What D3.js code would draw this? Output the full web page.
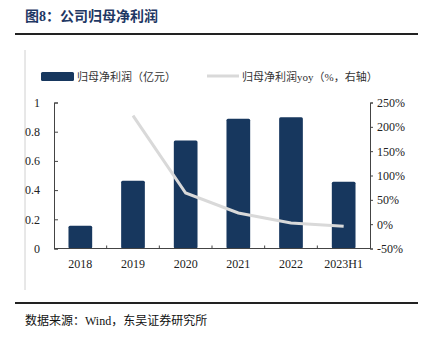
<!DOCTYPE html>
<html>
<head>
<meta charset="utf-8">
<script src="https://cdn.jsdelivr.net/npm/d3@7"></script>
<style>
  body { margin: 0; background: #fff; }
  svg { display: block; }
</style>
</head>
<body>
<div id="chart"></div>
<script>
// 归母净利润 (亿元) and its yoy growth (%)
const years = ["2018", "2019", "2020", "2021", "2022", "2023H1"];
const profit = [0.155, 0.464, 0.739, 0.888, 0.899, 0.457];
const yoy = [null, 223, 64, 23, 2.5, -4.5];
const leftTicks = [0, 0.2, 0.4, 0.6, 0.8, 1];
const rightTicks = [-50, 0, 50, 100, 150, 200, 250];

const W = 426, H = 337;
const plotLeft = 54, plotRight = 370, plotTop = 102.5, plotBottom = 248.5;
const serif = "'Liberation Serif', 'Times New Roman', serif";
// latin glyphs in serif, CJK falls through to Noto
const mixed = "'Liberation Serif', 'Noto Sans CJK SC', serif";

const svg = d3.select("#chart").append("svg")
  .attr("width", W)
  .attr("height", H);

// header and footer frame
svg.append("text")
  .attr("x", 25).attr("y", 21)
  .style("font-family", mixed)
  .style("font-size", "14px")
  .style("font-weight", "bold")
  .style("fill", "#1f3864")
  .text("图8：公司归母净利润");
svg.append("line")
  .attr("x1", 15).attr("x2", 418).attr("y1", 34).attr("y2", 34)
  .attr("stroke", "#222").attr("stroke-width", 2);
svg.append("line")
  .attr("x1", 25).attr("x2", 25).attr("y1", 50).attr("y2", 290)
  .attr("stroke", "#d0d0d0").attr("stroke-width", 1);
svg.append("line")
  .attr("x1", 15).attr("x2", 418).attr("y1", 303).attr("y2", 303)
  .attr("stroke", "#222").attr("stroke-width", 2);
svg.append("text")
  .attr("x", 25).attr("y", 325)
  .style("font-family", mixed)
  .style("font-size", "12px")
  .style("fill", "#111")
  .text("数据来源：Wind，东吴证券研究所");

// scales
const x = d3.scaleBand()
  .domain(years)
  .range([plotLeft, plotRight])
  .paddingInner(0.55)
  .paddingOuter(0.275);
const yL = d3.scaleLinear().domain([0, 1]).range([plotBottom, plotTop]);
const yR = d3.scaleLinear().domain([-50, 250]).range([plotBottom, plotTop]);

// bars
svg.selectAll(".bar")
  .data(years)
  .enter()
  .append("rect")
  .attr("class", "bar")
  .attr("x", d => x(d))
  .attr("y", (d, i) => yL(profit[i]))
  .attr("width", x.bandwidth())
  .attr("height", (d, i) => plotBottom - yL(profit[i]))
  .attr("rx", 1.5)
  .style("fill", "#17375e");

// left axis
const axL = svg.append("g")
  .attr("transform", `translate(${plotLeft},0)`)
  .call(d3.axisLeft(yL).tickValues(leftTicks).tickSize(-4).tickPadding(14)
    .tickFormat(d => d === 0 ? "0" : d3.format("")(d)));
axL.attr("font-family", serif);
axL.select(".domain").attr("stroke", "#444");
axL.selectAll(".tick line").attr("stroke", "#444");
axL.selectAll("text")
  .style("font-family", serif).style("font-size", "12px").style("fill", "#222");

// right axis
const axR = svg.append("g")
  .attr("transform", `translate(${plotRight},0)`)
  .call(d3.axisRight(yR).tickValues(rightTicks).tickSize(3).tickPadding(4)
    .tickFormat(d => d + "%"));
axR.attr("font-family", serif);
axR.select(".domain").attr("stroke", "#444");
axR.selectAll(".tick line").attr("stroke", "#444");
axR.selectAll("text")
  .style("font-family", serif).style("font-size", "12px").style("fill", "#222");

// bottom axis: ticks sit on the category boundaries
const xAxis = svg.append("g");
xAxis.append("line")
  .attr("x1", plotLeft).attr("x2", plotRight).attr("y1", plotBottom).attr("y2", plotBottom)
  .attr("stroke", "#444");
const step = x.step();
d3.range(1, years.length).forEach(i => {
  const bx = plotLeft + x.paddingOuter() * step - x.paddingInner() * step / 2 + i * step;
  xAxis.append("line")
    .attr("x1", bx).attr("x2", bx).attr("y1", plotBottom).attr("y2", plotBottom - 3)
    .attr("stroke", "#444");
});
xAxis.selectAll(".xl")
  .data(years)
  .enter()
  .append("text")
  .attr("class", "xl")
  .attr("x", d => x(d) + x.bandwidth() / 2)
  .attr("y", 268)
  .attr("text-anchor", "middle")
  .style("font-family", serif).style("font-size", "12px").style("fill", "#222")
  .text(d => d);

// yoy line
const pts = years.map((d, i) => [x(d) + x.bandwidth() / 2, yoy[i]]).filter(p => p[1] !== null);
svg.append("path")
  .datum(pts)
  .attr("fill", "none")
  .attr("stroke", "#d9d9d9")
  .attr("stroke-width", 3)
  .attr("d", d3.line().x(p => p[0]).y(p => yR(p[1])));

// legend
svg.append("rect")
  .attr("x", 41).attr("y", 72).attr("width", 33).attr("height", 9)
  .attr("rx", 1.5)
  .style("fill", "#17375e");
svg.append("text")
  .attr("x", 77).attr("y", 80.5)
  .style("font-family", mixed).style("font-size", "11px").style("fill", "#333")
  .text("归母净利润（亿元）");
svg.append("line")
  .attr("x1", 207).attr("x2", 239).attr("y1", 76).attr("y2", 76)
  .attr("stroke", "#d9d9d9").attr("stroke-width", 3);
svg.append("text")
  .attr("x", 242).attr("y", 80.5)
  .style("font-family", mixed).style("font-size", "11px").style("fill", "#333")
  .text("归母净利润yoy（%，右轴）");
</script>
</body>
</html>
